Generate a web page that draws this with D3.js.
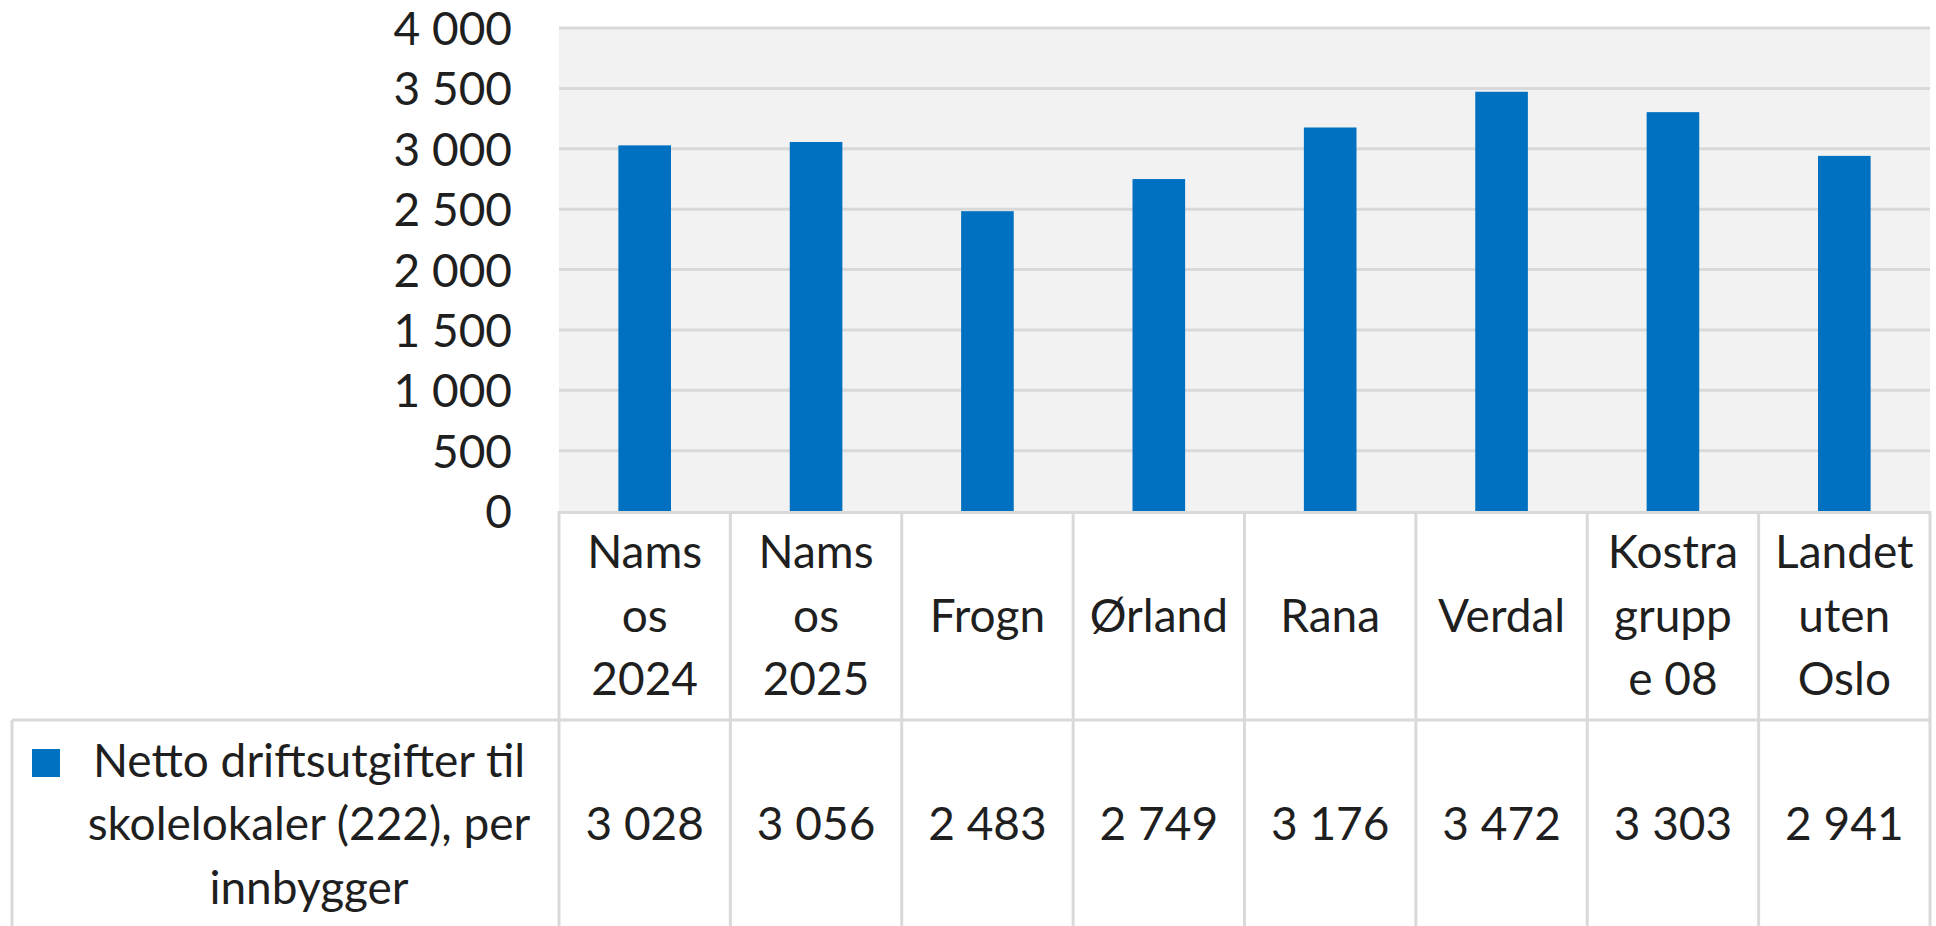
<!DOCTYPE html>
<html>
<head>
<meta charset="utf-8">
<script src="https://cdn.jsdelivr.net/npm/d3@7"></script>
<style>
  html, body { margin: 0; padding: 0; background: #fff; overflow: hidden; }
  svg { display: block; }
  text { font-family: Lato, "Open Sans", sans-serif; fill: #1f1f1f; }
</style>
</head>
<body>
<svg id="chart" width="1936" height="926"></svg>
<script>
// Netto driftsutgifter til skolelokaler (222), per innbygger
const categories = ["Namsos 2024", "Namsos 2025", "Frogn", "Ørland", "Rana", "Verdal", "Kostragruppe 08", "Landet uten Oslo"];
const categoryLines = [
  ["Nams", "os", "2024"],
  ["Nams", "os", "2025"],
  ["Frogn"],
  ["Ørland"],
  ["Rana"],
  ["Verdal"],
  ["Kostra", "grupp", "e 08"],
  ["Landet", "uten", "Oslo"]
];
const values = [3028, 3056, 2483, 2749, 3176, 3472, 3303, 2941];
const yTicks = [0, 500, 1000, 1500, 2000, 2500, 3000, 3500, 4000];
const seriesName = ["Netto driftsutgifter til", "skolelokaler (222), per", "innbygger"];

const W = 1936, H = 926;
const plot = { left: 559, right: 1930, top: 28, bottom: 511 };
const table = { left: 12, row1Bottom: 720, bottom: 940 };
const fontSize = 46;
const lineGap = 63.5;
const gridColor = "#d9d9d9";
const barColor = "#0070c0";

const nb = d3.formatLocale({ decimal: ",", thousands: "\u00a0", grouping: [3], currency: ["", " kr"] });
const fmt = nb.format(",d");

const svg = d3.select("#chart");

const x = d3.scaleBand()
  .domain(categories)
  .range([plot.left, plot.right])
  .paddingInner(0.693)
  .paddingOuter(0.3465);

const cols = d3.scaleBand()
  .domain(categories)
  .range([plot.left, plot.right])
  .padding(0);

const y = d3.scaleLinear()
  .domain([0, 4000])
  .range([plot.bottom, plot.top]);

// plot area background
svg.append("rect")
  .attr("x", plot.left).attr("y", plot.top)
  .attr("width", plot.right - plot.left)
  .attr("height", plot.bottom - plot.top)
  .attr("fill", "#f2f2f2");

// horizontal gridlines
svg.append("g")
  .selectAll("line")
  .data(yTicks.filter(d => d > 0))
  .join("line")
  .attr("x1", plot.left).attr("x2", plot.right)
  .attr("y1", d => y(d)).attr("y2", d => y(d))
  .attr("stroke", gridColor)
  .attr("stroke-width", 3);

// y axis labels
const yAxis = d3.axisLeft(y)
  .tickValues(yTicks)
  .tickFormat(fmt)
  .tickSize(0)
  .tickPadding(47);
const ya = svg.append("g")
  .attr("transform", `translate(${plot.left},0)`)
  .call(yAxis);
ya.select(".domain").remove();
ya.selectAll("text")
  .attr("font-size", fontSize)
  .attr("font-family", "Lato, 'Open Sans', sans-serif")
  .attr("fill", "#1f1f1f")
  .attr("dy", "0.36em");

// bars
svg.append("g")
  .selectAll("rect")
  .data(values)
  .join("rect")
  .attr("x", (d, i) => x(categories[i]))
  .attr("width", x.bandwidth())
  .attr("y", d => y(d))
  .attr("height", d => y(0) - y(d))
  .attr("fill", barColor);

// data table grid
const grid = svg.append("g")
  .attr("stroke", gridColor)
  .attr("stroke-width", 3)
  .attr("fill", "none");

// top edge of the category row
grid.append("line")
  .attr("x1", plot.left).attr("x2", plot.right)
  .attr("y1", y(0) + 1.5).attr("y2", y(0) + 1.5);
// divider between category row and value row
grid.append("line")
  .attr("x1", table.left).attr("x2", plot.right)
  .attr("y1", table.row1Bottom).attr("y2", table.row1Bottom);
// left edge of legend cell
grid.append("line")
  .attr("x1", table.left).attr("x2", table.left)
  .attr("y1", table.row1Bottom).attr("y2", table.bottom);
// column separators
const colEdges = categories.map(c => cols(c)).concat([plot.right]);
grid.selectAll("line.col")
  .data(colEdges)
  .join("line")
  .attr("class", "col")
  .attr("x1", d => d).attr("x2", d => d)
  .attr("y1", y(0)).attr("y2", table.bottom);

// category labels
const catRowMid = (y(0) + table.row1Bottom) / 2;
svg.append("g")
  .selectAll("text")
  .data(categoryLines)
  .join("text")
  .attr("font-size", fontSize)
  .attr("text-anchor", "middle")
  .each(function (lines, i) {
    const cx = cols(categories[i]) + cols.bandwidth() / 2;
    const firstBaseline = catRowMid + 16 - (lines.length - 1) * lineGap / 2;
    d3.select(this).selectAll("tspan")
      .data(lines)
      .join("tspan")
      .attr("x", cx)
      .attr("y", (d, j) => firstBaseline + j * lineGap)
      .text(d => d);
  });

// value row
const valRowMid = 823;
svg.append("g")
  .selectAll("text")
  .data(values)
  .join("text")
  .attr("font-size", fontSize)
  .attr("text-anchor", "middle")
  .attr("x", (d, i) => cols(categories[i]) + cols.bandwidth() / 2)
  .attr("y", valRowMid + 17)
  .text(d => fmt(d));

// legend key and series name
svg.append("rect")
  .attr("x", 32).attr("y", 749)
  .attr("width", 28).attr("height", 28)
  .attr("fill", barColor);

svg.append("text")
  .attr("font-size", fontSize)
  .attr("text-anchor", "middle")
  .selectAll("tspan")
  .data(seriesName)
  .join("tspan")
  .attr("x", 309)
  .attr("y", (d, j) => valRowMid + 17 + (j - 1) * lineGap)
  .text(d => d);
</script>
</body>
</html>
